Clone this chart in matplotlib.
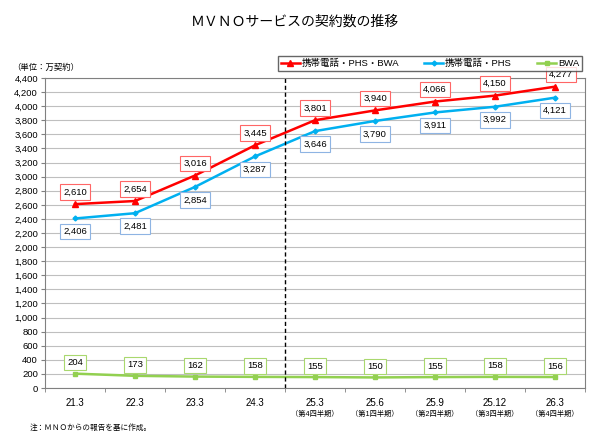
import numpy as np
import matplotlib.pyplot as plt
from matplotlib.ticker import FuncFormatter, MultipleLocator
import matplotlib.transforms as mtransforms

plt.rcParams['font.family'] = ['Liberation Sans', 'Noto Sans CJK JP', 'DejaVu Sans']

categories = ["21.3", "22.3", "23.3", "24.3", "25.3", "25.6", "25.9", "25.12", "26.3"]
sublabels = ["", "", "", "", "（第4四半期）", "（第1四半期）", "（第2四半期）", "（第3四半期）", "（第4四半期）"]
total = [2610, 2654, 3016, 3445, 3801, 3940, 4066, 4150, 4277]
phone = [2406, 2481, 2854, 3287, 3646, 3790, 3911, 3992, 4121]
bwa = [204, 173, 162, 158, 155, 150, 155, 158, 156]

red = "#ff0000"
blue = "#00b0f0"
green = "#92d050"

fig = plt.figure(figsize=(5.9, 4.38), dpi=100)
ax = fig.add_axes([45/590, 1-388/438, 540/590, 310/438])

x = np.arange(len(categories))
ax.plot(x, total, color=red, lw=1.8, marker="^", ms=4, label="携帯電話・PHS・BWA")
ax.plot(x, phone, color=blue, lw=1.8, marker="D", ms=2.5, label="携帯電話・PHS")
ax.plot(x, bwa, color=green, lw=1.8, marker="s", ms=3.5, label="BWA")

ax.set_xlim(-0.5, len(categories) - 0.5)
ax.set_ylim(0, 4400)
ax.yaxis.set_major_locator(MultipleLocator(200))
ax.yaxis.set_major_formatter(FuncFormatter(lambda v, p: f"{int(v):,}"))
ax.grid(axis="y", color="#bfbfbf", lw=0.8)
ax.set_axisbelow(True)

ax.set_xticks(x)
ax.set_xticklabels(categories, fontsize=7)
ax.set_xticks(np.arange(len(categories) + 1) - 0.5, minor=True)
ax.tick_params(axis="x", which="major", length=0, pad=7)
ax.tick_params(axis="x", which="minor", length=3, color="#808080")
ax.tick_params(axis="y", length=3, labelsize=6.8, color="#808080", pad=2)
for s in ax.spines.values():
    s.set_color("#808080")
    s.set_linewidth(0.8)

trans = mtransforms.blended_transform_factory(ax.transData, ax.transAxes)
for i, t in enumerate(sublabels):
    if t:
        ax.text(i, -0.085, t, transform=trans, ha="center", va="center", fontsize=5.2)

ax.axvline(3.5, color="black", lw=1, ls=(0, (3, 2)))

def label(vals, edge, dy, dx_last=0):
    for i, v in enumerate(vals):
        dx = dx_last if i == len(vals) - 1 else 0
        ax.annotate(f"{v:,}", (i, v), xytext=(dx, dy), textcoords="offset pixels",
                    ha="center", va="center", fontsize=6.8,
                    bbox=dict(boxstyle="square,pad=0.35", fc="white", ec=edge, lw=0.8))

label(total, "#ff6666", 12, 6)
label(phone, "#8eb4e3", -13)
label(bwa, "#a9d86e", 11)

fig.legend(loc="lower left", bbox_to_anchor=(278/590, 1-71/438, 304/590, 16/438),
           mode="expand", ncol=3, fontsize=6.8,
           frameon=True, fancybox=False, edgecolor="#404040", handlelength=2.0,
           borderpad=0.3, handletextpad=0.2, borderaxespad=0)

fig.text(0.5, 1-22/438, "ＭＶＮＯサービスの契約数の推移", ha="center", va="center", fontsize=10)
fig.text(12/590, 1-68/438, "（単位：万契約）", ha="left", va="center", fontsize=6)
fig.text(30/590, 1-428/438, "注：ＭＮＯからの報告を基に作成。", ha="left", va="center", fontsize=5.5)

fig.savefig("out.png", dpi=100)
